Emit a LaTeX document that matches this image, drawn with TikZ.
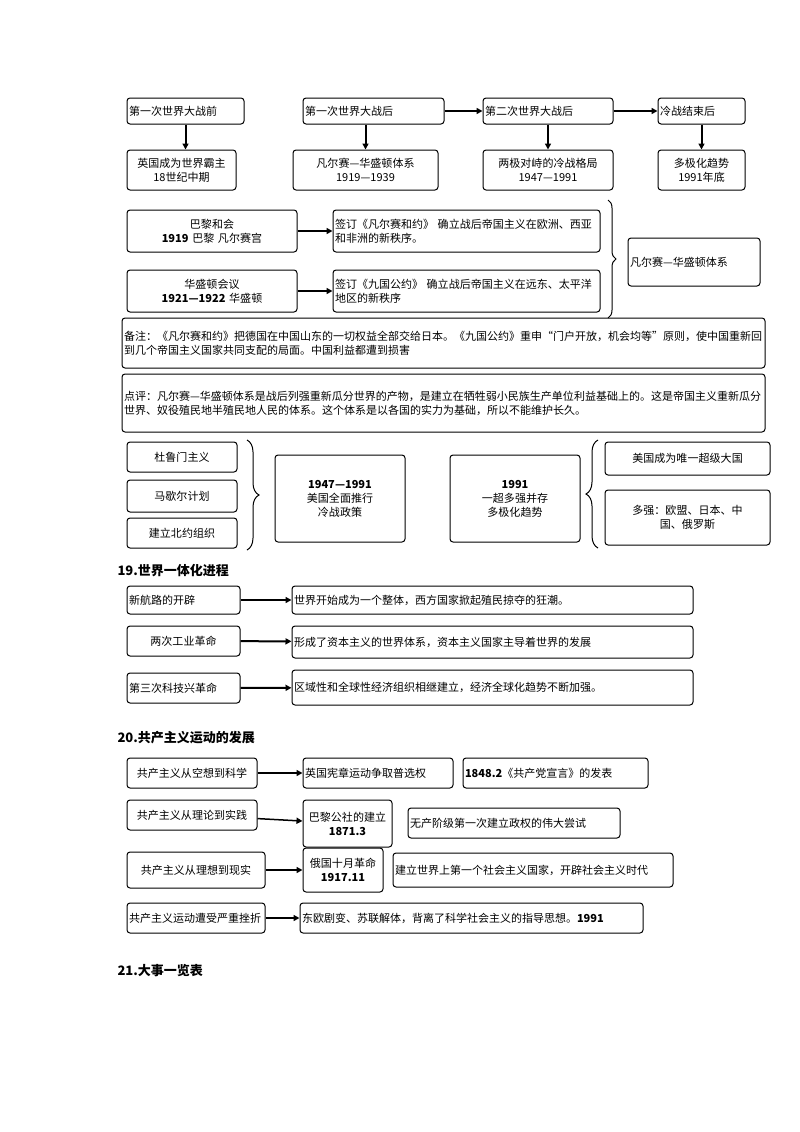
\documentclass[tikz,border=0pt]{standalone}
\usepackage{fontspec}
\setmainfont{Noto Sans CJK SC}
\XeTeXlinebreaklocale "zh"
\XeTeXlinebreakskip=0pt plus 0.05pt
\usetikzlibrary{arrows.meta,decorations.pathreplacing}
\begin{document}
\begin{tikzpicture}[x=1pt,y=-1pt,
 bx/.style={draw,line width=1pt,rounded corners=3pt,inner sep=2pt,font=\fontsize{11}{14}\selectfont},
 ar/.style={-{Triangle[length=6pt,width=6pt]},line width=2pt},
 br/.style={decorate,decoration={brace,amplitude=8pt},line width=1pt},
 hd/.style={font=\bfseries\fontsize{13}{15}\selectfont,anchor=west}]
\useasboundingbox (0,0) rectangle (800,1132);
\newcommand{\bxx}[6]{\node[bx,minimum width=#3-#1,minimum height=#4-#2,align=#5,text width=#3-#1-4] (#6) at ({(#1+#3)/2},{(#2+#4)/2})}
% row 1
\bxx{127}{98}{244}{124}{left}{a1}{第一次世界大战前};
\bxx{303}{98}{444}{124}{left}{a2}{第一次世界大战后};
\bxx{483}{98}{613}{124}{left}{a3}{第二次世界大战后};
\bxx{658}{98}{745}{124}{left}{a4}{冷战结束后};
\bxx{127}{150}{236}{190}{center}{b1}{英国成为世界霸主\\18世纪中期};
\bxx{293}{150}{438}{190}{center}{b2}{凡尔赛—华盛顿体系\\1919—1939};
\bxx{483}{150}{613}{190}{center}{b3}{两极对峙的冷战格局\\1947—1991};
\bxx{658}{150}{745}{190}{center}{b4}{多极化趋势\\1991年底};
\draw[ar] (a1.south)--(a1.south|-b1.north);
\draw[ar] (a2.south-|b2.north)--(b2.north);
\draw[ar] (a3.south)--(b3.north);
\draw[ar] (a4.south)--(b4.north);
\draw[ar] (a2)--(a3);
\draw[ar] (a3)--(a4);
% row 3
\bxx{127}{210}{297}{252}{center}{c1}{巴黎和会\\\textbf{1919} 巴黎\ 凡尔赛宫};
\bxx{333}{210}{600}{252}{left}{d1}{签订《凡尔赛和约》\ 确立战后帝国主义在欧洲、西亚和非洲的新秩序。};
\bxx{127}{270}{297}{312}{center}{c2}{华盛顿会议\\\textbf{1921—1922} 华盛顿};
\bxx{333}{270}{600}{312}{left}{d2}{签订《九国公约》\ 确立战后帝国主义在远东、太平洋地区的新秩序};
\draw[ar] (c1)--(d1);
\draw[ar] (c2)--(d2);
\bxx{628}{238}{760}{286}{left}{e}{凡尔赛—华盛顿体系};
\coordinate (bt) at (608,200); \coordinate (bb) at (608,318);
\draw[br] (bt)--(bb);
\bxx{122}{318}{765}{368}{left}{n1}{备注：《凡尔赛和约》把德国在中国山东的一切权益全部交给日本。《九国公约》重申“门户开放，机会均等”原则，使中国重新回到几个帝国主义国家共同支配的局面。中国利益都遭到损害};
\bxx{122}{374}{765}{432}{left}{n2}{点评：凡尔赛—华盛顿体系是战后列强重新瓜分世界的产物，是建立在牺牲弱小民族生产单位利益基础上的。这是帝国主义重新瓜分世界、奴役殖民地半殖民地人民的体系。这个体系是以各国的实力为基础，所以不能维护长久。};
% cold war
\bxx{127}{442}{237}{472}{center}{l1}{杜鲁门主义};
\bxx{127}{480}{237}{512}{center}{l2}{马歇尔计划};
\bxx{127}{518}{237}{548}{center}{l3}{建立北约组织};
\coordinate (lb1) at (247,440); \coordinate (lb2) at (247,550);
\draw[br,decoration={amplitude=12pt}] (lb1)--(lb2);
\bxx{275}{455}{405}{542}{center}{f}{\textbf{1947—1991}\\美国全面推行\\冷战政策};
\bxx{450}{455}{580}{542}{center}{g}{\textbf{1991}\\一超多强并存\\多极化趋势};
\coordinate (rb1) at (598,548); \coordinate (rb2) at (598,440);
\draw[br,decoration={amplitude=12pt}] (rb1)--(rb2);
\bxx{605}{442}{770}{475}{center}{h1}{美国成为唯一超级大国};
\bxx{605}{490}{770}{545}{center}{h2}{多强：欧盟、日本、中\\国、俄罗斯};
% 19
\node[hd] (t19) at (114,571) {19.世界一体化进程};
\bxx{127}{586}{240}{614}{left}{p1}{新航路的开辟};
\bxx{292}{586}{693}{614}{left}{q1}{世界开始成为一个整体，西方国家掀起殖民掠夺的狂潮。};
\bxx{127}{626}{240}{656}{center}{p2}{两次工业革命};
\bxx{292}{626}{693}{658}{left}{q2}{形成了资本主义的世界体系，资本主义国家主导着世界的发展};
\bxx{127}{673}{240}{703}{left}{p3}{第三次科技兴革命};
\bxx{292}{670}{693}{705}{left}{q3}{区域性和全球性经济组织相继建立，经济全球化趋势不断加强。};
\draw[ar] (p1)--(q1); \draw[ar] (p2)--(q2); \draw[ar] (p3)--(q3);
% 20
\node[hd] (t20) at (114,738) {20.共产主义运动的发展};
\bxx{127}{758}{257}{788}{center}{r1}{共产主义从空想到科学};
\bxx{303}{758}{453}{788}{left}{s1}{英国宪章运动争取普选权};
\bxx{463}{758}{648}{788}{left}{u1}{\textbf{1848.2}《共产党宣言》的发表};
\bxx{127}{800}{257}{830}{center}{r2}{共产主义从理论到实践};
\bxx{303}{800}{392}{847}{center}{s2}{巴黎公社的建立\\\textbf{1871.3}};
\bxx{408}{808}{620}{838}{left}{u2}{无产阶级第一次建立政权的伟大尝试};
\bxx{127}{852}{265}{888}{center}{r3}{共产主义从理想到现实};
\bxx{303}{848}{383}{892}{center}{s3}{俄国十月革命\\\textbf{1917.11}};
\bxx{393}{853}{673}{887}{left}{u3}{建立世界上第一个社会主义国家，开辟社会主义时代};
\bxx{127}{903}{265}{933}{left}{r4}{共产主义运动遭受严重挫折};
\bxx{300}{903}{643}{933}{left}{s4}{东欧剧变、苏联解体，背离了科学社会主义的指导思想。\textbf{1991}};
\draw[ar,line width=1.5pt] (r1)--(s1); \draw[ar,line width=1.5pt] (r2)--(s2);
\draw[ar,line width=1.5pt] (r3)--(s3); \draw[ar,line width=1.5pt] (r4)--(s4);
\node[hd] (t21) at (114,971) {21.大事一览表};
\end{tikzpicture}
\end{document}
